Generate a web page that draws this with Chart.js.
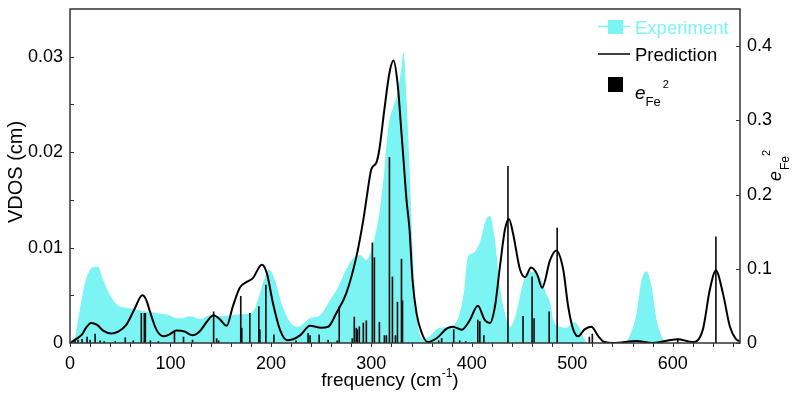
<!DOCTYPE html>
<html>
<head>
<meta charset="utf-8">
<script src="https://cdn.jsdelivr.net/npm/chart.js@4/dist/chart.umd.min.js"></script>
<style>
  html, body { margin: 0; padding: 0; background: #fff; }
  canvas { display: block; }
</style>
</head>
<body>
<canvas id="vdosChart" width="799" height="400"></canvas>
<script>
// axis ticks
const xTickVals = [0, 100, 200, 300, 400, 500, 600];
const yTickVals = [0, 0.01, 0.02, 0.03];
const yTickLabels = ['0', '0.01', '0.02', '0.03'];
const y2TickVals = [0, 0.1, 0.2, 0.3, 0.4];
const y2TickLabels = ['0', '0.1', '0.2', '0.3', '0.4'];

// experiment (cyan fill): frequency / VDOS
const expFreq = [0, 4, 9, 14, 19, 24, 28, 32, 39, 47, 56, 66, 76, 89, 99, 106, 112, 119, 124, 130, 139, 149, 159, 169, 179, 184, 189, 194, 198, 204, 211, 219, 227, 239, 249, 259, 267, 275, 282, 289, 295, 302, 308, 312, 317, 322, 327, 330, 332, 335, 338, 341, 345, 348, 353, 358, 368, 378, 388, 393, 396, 401, 408, 414, 418, 423, 428, 433, 438, 444, 451, 456, 460, 468, 474, 478, 481, 488, 494, 502, 507, 512, 515, 552, 557, 564, 569, 574, 579, 584, 590, 594, 667];
const expVdos = [0, 0.0002, 0.003, 0.0059, 0.0075, 0.008, 0.008, 0.0069, 0.0052, 0.004, 0.0037, 0.0035, 0.0033, 0.0031, 0.0029, 0.0026, 0.0026, 0.0028, 0.0027, 0.0025, 0.0029, 0.0028, 0.0029, 0.003, 0.0031, 0.0036, 0.0052, 0.0069, 0.0077, 0.0066, 0.004, 0.0022, 0.0017, 0.0026, 0.0029, 0.0045, 0.0059, 0.0077, 0.0089, 0.0092, 0.0087, 0.0105, 0.0136, 0.0171, 0.0227, 0.0248, 0.0266, 0.029, 0.0305, 0.0255, 0.0185, 0.01, 0.0031, 0.001, 0.0004, 0.0007, 0.0016, 0.0017, 0.0031, 0.006, 0.009, 0.0094, 0.0105, 0.0129, 0.0133, 0.0108, 0.0059, 0.0031, 0.0017, 0.003, 0.0063, 0.0074, 0.0075, 0.0069, 0.0052, 0.0042, 0.0025, 0.0017, 0.0016, 0.0022, 0.0016, 0.0004, 0, 0, 0.0007, 0.0031, 0.0066, 0.0075, 0.0059, 0.0024, 0.0005, 0, 0];

// prediction (black line): frequency / VDOS
const predFreq = [0, 6, 12, 16, 21, 27, 33, 41, 48, 56, 64, 72, 76, 79, 86, 93, 99, 106, 114, 122, 129, 136, 143, 149, 156, 162, 169, 176, 182, 191, 196, 202, 209, 216, 222, 229, 239, 250, 257, 265, 275, 285, 292, 295, 300, 305, 308, 313, 318, 322, 326, 330, 333, 335, 338, 341, 345, 350, 356, 365, 375, 381, 390, 398, 406, 413, 418, 423, 428, 433, 437, 441, 448, 453, 459, 465, 470, 478, 484, 491, 496, 501, 506, 512, 519, 526, 532, 541, 564, 580, 605, 620, 630, 637, 643, 650, 657, 663, 667];
const predVdos = [0, 0.0004, 0.0009, 0.0016, 0.0021, 0.0019, 0.0013, 0.001, 0.0012, 0.0019, 0.0035, 0.005, 0.0045, 0.0035, 0.0014, 0.0007, 0.0009, 0.0013, 0.0012, 0.0008, 0.0012, 0.0022, 0.0029, 0.0025, 0.0018, 0.0038, 0.0058, 0.0064, 0.0068, 0.0082, 0.0073, 0.0042, 0.0014, 0.0003, 0.0004, 0.0008, 0.0018, 0.0016, 0.0017, 0.0031, 0.0052, 0.009, 0.0129, 0.015, 0.0182, 0.0189, 0.0203, 0.0245, 0.0283, 0.0296, 0.0273, 0.022, 0.0178, 0.015, 0.0119, 0.0066, 0.0031, 0.0011, 0.0001, 0.0005, 0.0015, 0.0017, 0.0014, 0.0024, 0.0039, 0.0024, 0.0021, 0.0038, 0.008, 0.0119, 0.013, 0.0115, 0.0077, 0.0069, 0.0079, 0.0072, 0.0058, 0.0087, 0.0097, 0.0077, 0.0038, 0.0014, 0.0007, 0.0014, 0.0017, 0.0007, 0.0001, 0, 0.0002, 0, 0.0004, 0.0001, 0.0014, 0.0056, 0.0076, 0.0052, 0.0017, 0.0004, 0.0002];

// e_Fe^2 sticks (right axis)
const stickFreq = [5, 8, 12, 17, 20, 25, 30, 34, 45, 55, 63, 71, 74, 75, 80, 88, 104, 113, 122, 143, 146, 148, 170, 171, 179, 188, 189, 195, 203, 225, 237, 239, 248, 257, 266, 268, 281, 283, 285, 286, 288, 292, 295, 301, 303, 308, 313, 315, 318, 321, 324, 326, 330, 331, 367, 370, 382, 388, 394, 406, 408, 412, 436, 451, 460, 462, 477, 485, 517, 520, 605, 643];
const stickE2 = [0.003, 0.004, 0.005, 0.008, 0.004, 0.012, 0.003, 0.002, 0.002, 0.007, 0.003, 0.04, 0.04, 0.04, 0.003, 0.002, 0.015, 0.008, 0.004, 0.042, 0.006, 0.003, 0.063, 0.02, 0.04, 0.049, 0.018, 0.078, 0.011, 0.003, 0.013, 0.01, 0.011, 0.004, 0.003, 0.049, 0.006, 0.035, 0.02, 0.018, 0.022, 0.027, 0.03, 0.135, 0.115, 0.028, 0.01, 0.01, 0.25, 0.089, 0.01, 0.055, 0.113, 0.057, 0.003, 0.006, 0.018, 0.003, 0.002, 0.031, 0.029, 0.01, 0.238, 0.036, 0.089, 0.033, 0.042, 0.155, 0.008, 0.012, 0.006, 0.143];

const CYAN = 'rgb(125, 244, 244)';
const FONT = '"Liberation Sans", Arial, sans-serif';

function pairs(xs, ys) {
    return xs.map((x, i) => ({ x: x, y: ys[i] }));
}

// frame, tick marks, axis titles and legend
const decorations = {
    id: 'decorations',
    afterDatasetsDraw(chart) {
        const ctx = chart.ctx;
        const a = chart.chartArea;
        const sx = chart.scales.x, sy = chart.scales.y, sy2 = chart.scales.y2;
        ctx.save();
        ctx.strokeStyle = '#333';
        ctx.lineWidth = 1.5;
        ctx.strokeRect(a.left, a.top, a.right - a.left, a.bottom - a.top);

        ctx.lineWidth = 1;
        ctx.beginPath();
        for (let v = 0; v <= 660; v += 20) {
            const px = Math.round(sx.getPixelForValue(v)) + 0.5;
            ctx.moveTo(px, a.bottom); ctx.lineTo(px, a.bottom + 4);
        }
        for (let v = 0.005; v < 0.035; v += 0.005) {
            const py = Math.round(sy.getPixelForValue(v)) + 0.5;
            ctx.moveTo(a.left, py); ctx.lineTo(a.left + 4, py);
        }
        y2TickVals.forEach(v => {
            const py = Math.round(sy2.getPixelForValue(v)) + 0.5;
            ctx.moveTo(a.right, py); ctx.lineTo(a.right - 4, py);
        });
        ctx.stroke();

        ctx.fillStyle = '#000';
        ctx.textBaseline = 'alphabetic';
        // bottom title
        const t1 = 'frequency (cm', t2 = '-1', t3 = ')';
        ctx.font = '19px ' + FONT;
        const w1 = ctx.measureText(t1).width, w3 = ctx.measureText(t3).width;
        ctx.font = '12px ' + FONT;
        const w2 = ctx.measureText(t2).width;
        const bx = 390 - (w1 + w2 + w3) / 2;
        const by = 386;
        ctx.textAlign = 'left';
        ctx.font = '19px ' + FONT;
        ctx.fillText(t1, bx, by);
        ctx.font = '12px ' + FONT;
        ctx.fillText(t2, bx + w1, by - 9);
        ctx.font = '19px ' + FONT;
        ctx.fillText(t3, bx + w1 + w2, by);

        // left title
        ctx.save();
        ctx.translate(22, (a.top + a.bottom) / 2 - 4);
        ctx.rotate(-Math.PI / 2);
        ctx.textAlign = 'center';
        ctx.font = '20px ' + FONT;
        ctx.fillText('VDOS (cm)', 0, 0);
        ctx.restore();

        // right title e_Fe^2
        ctx.save();
        ctx.translate(781, 181);
        ctx.rotate(-Math.PI / 2);
        ctx.textAlign = 'left';
        ctx.font = 'italic 18px ' + FONT;
        ctx.fillText('e', 0, 0);
        let ew = ctx.measureText('e').width;
        ctx.font = '12px ' + FONT;
        ctx.fillText('Fe', ew + 1, 8);
        let fw = ctx.measureText('Fe').width;
        ctx.font = '11px ' + FONT;
        ctx.fillText('2', ew + fw + 1, -11);
        ctx.restore();

        // legend
        const lx0 = 598, lx1 = 630, tx = 635;
        ctx.strokeStyle = CYAN;
        ctx.lineWidth = 1.5;
        ctx.beginPath(); ctx.moveTo(lx0, 26.5); ctx.lineTo(lx1, 26.5); ctx.stroke();
        ctx.fillStyle = CYAN;
        ctx.fillRect(608, 20, 15, 14);
        ctx.font = '18.5px ' + FONT;
        ctx.fillText('Experiment', tx, 34);

        ctx.strokeStyle = '#000';
        ctx.lineWidth = 1.5;
        ctx.beginPath(); ctx.moveTo(lx0, 54); ctx.lineTo(lx1, 54); ctx.stroke();
        ctx.fillStyle = '#000';
        ctx.fillText('Prediction', tx, 61);

        ctx.fillRect(608, 77, 15, 15);
        ctx.font = 'italic 19px ' + FONT;
        ctx.fillText('e', tx, 99);
        ew = ctx.measureText('e').width;
        ctx.font = '13px ' + FONT;
        ctx.fillText('Fe', tx + ew, 106);
        fw = ctx.measureText('Fe').width;
        ctx.font = '11px ' + FONT;
        ctx.fillText('2', tx + ew + fw + 2, 88);
        ctx.restore();
    }
};

const ctx = document.getElementById('vdosChart').getContext('2d');
new Chart(ctx, {
    type: 'line',
    data: {
        datasets: [{
            label: 'Prediction',
            data: pairs(predFreq, predVdos),
            yAxisID: 'y',
            borderColor: '#000',
            borderWidth: 2,
            pointRadius: 0,
            fill: false,
            cubicInterpolationMode: 'monotone',
            order: 1
        }, {
            type: 'bar',
            label: 'eFe2',
            data: pairs(stickFreq, stickE2),
            yAxisID: 'y2',
            backgroundColor: '#111',
            borderWidth: 0,
            barThickness: 1,
            order: 2
        }, {
            label: 'Experiment',
            data: pairs(expFreq, expVdos),
            yAxisID: 'y',
            borderColor: CYAN,
            borderWidth: 0,
            backgroundColor: CYAN,
            pointRadius: 0,
            fill: 'origin',
            cubicInterpolationMode: 'monotone',
            order: 3
        }]
    },
    options: {
        responsive: false,
        animation: false,
        devicePixelRatio: 1,
        layout: { padding: { top: 9, left: 0, right: 0, bottom: 0 } },
        plugins: { legend: { display: false }, tooltip: { enabled: false } },
        scales: {
            x: {
                type: 'linear',
                min: 0,
                max: 667,
                offset: false,
                grid: { display: false, drawTicks: false },
                border: { display: false },
                afterBuildTicks: s => { s.ticks = xTickVals.map(v => ({ value: v })); },
                afterFit: s => { s.height = 57; s.paddingLeft = 0; s.paddingRight = 0; },
                ticks: { color: '#000', font: { family: FONT, size: 18 }, padding: 10, maxRotation: 0 }
            },
            y: {
                position: 'left',
                min: 0,
                max: 0.035,
                grid: { display: false, drawTicks: false },
                border: { display: false },
                afterBuildTicks: s => { s.ticks = yTickVals.map(v => ({ value: v })); },
                afterFit: s => { s.width = 70; s.paddingTop = 0; s.paddingBottom = 0; },
                ticks: {
                    color: '#000', font: { family: FONT, size: 18 }, padding: 7,
                    callback: v => yTickLabels[yTickVals.indexOf(v)]
                }
            },
            y2: {
                position: 'right',
                min: 0,
                max: 0.45,
                grid: { display: false, drawTicks: false },
                border: { display: false },
                afterBuildTicks: s => { s.ticks = y2TickVals.map(v => ({ value: v })); },
                afterFit: s => { s.width = 59; s.paddingTop = 0; s.paddingBottom = 0; },
                ticks: {
                    color: '#000', font: { family: FONT, size: 18 }, padding: 7,
                    callback: v => y2TickLabels[y2TickVals.indexOf(v)]
                }
            }
        }
    },
    plugins: [decorations]
});
</script>
</body>
</html>
